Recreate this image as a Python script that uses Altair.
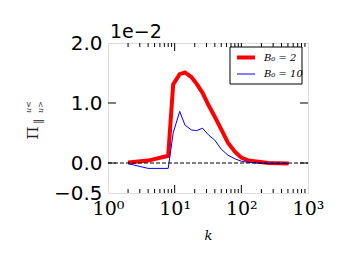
import altair as alt
import pandas as pd

# ---- data (values in units of 1e-2) ----
k = [2, 4, 8, 9.5, 11.9, 14.3, 17.9, 21.4, 26.2, 32, 40, 50, 63, 80, 100, 128, 256, 512]
b0_2 = [0.01, 0.04, 0.12, 1.31, 1.48, 1.51, 1.43, 1.32, 1.17, 0.97, 0.77, 0.56, 0.34, 0.19, 0.09, 0.04, 0.0, -0.01]
b0_10 = [-0.01, -0.09, -0.09, 0.50, 0.86, 0.63, 0.55, 0.54, 0.58, 0.47, 0.38, 0.23, 0.13, 0.07, 0.03, 0.01, -0.01, -0.01]
series_names = ["B₀ = 2", "B₀ = 10"]

x_tick_values = [1, 10, 100, 1000]
x_major = [10, 100]
x_minor = [2, 3, 4, 5, 6, 7, 8, 9, 20, 30, 40, 50, 60, 70, 80, 90,
           200, 300, 400, 500, 600, 700, 800, 900]
y_tick_values = [-0.5, 0.0, 1.0, 2.0]
y_major = [0.0, 1.0]

W, H = 200, 150

df = pd.DataFrame({
    "k": k * 2,
    "v": b0_2 + b0_10,
    "s": [series_names[0]] * len(k) + [series_names[1]] * len(k),
})

xs = alt.Scale(type="log", domain=[1, 1000], nice=False)
ys = alt.Scale(domain=[-0.5, 2.0], nice=False, zero=False)

lines = alt.Chart(df).mark_line(clip=True).encode(
    x=alt.X("k:Q", scale=xs, axis=alt.Axis(
        values=x_tick_values, ticks=False, domain=False, grid=False,
        labelExpr="'10' + ['⁰','¹','²','³'][round(log(datum.value)/LN10)]",
        labelFont="DejaVu Serif", labelFontSize=19, labelPadding=6, labelColor="black",
        labelFlush=False,
        title="k", titleFont="DejaVu Serif", titleFontStyle="italic", titleFontWeight="normal",
        titleFontSize=13, titlePadding=11, titleColor="black")),
    y=alt.Y("v:Q", scale=ys, axis=alt.Axis(
        values=y_tick_values, format=".1f", ticks=False, domain=False, grid=False,
        labelFont="DejaVu Sans", labelFontSize=20, labelPadding=6, labelColor="black",
        labelFlush=False, title=None)),
    color=alt.Color("s:N", scale=alt.Scale(domain=series_names, range=["#ff0000", "#0000ff"]), legend=None),
    strokeWidth=alt.StrokeWidth("s:N", scale=alt.Scale(domain=series_names, range=[4, 1]), legend=None),
    detail="s:N",
)

zero_line = alt.Chart(pd.DataFrame({"z": [0.0]})).mark_rule(
    color="black", strokeWidth=1, strokeDash=[4, 2]).encode(
    y=alt.Y("z:Q", scale=ys, axis=None), x=alt.value(0), x2=alt.value(W))

def xticks(vals, length, top):
    d = pd.DataFrame({"t": vals})
    if top:
        yy, yy2 = alt.value(0), alt.value(length)
    else:
        yy, yy2 = alt.value(H), alt.value(H - length)
    return alt.Chart(d).mark_rule(color="black", strokeWidth=1).encode(
        x=alt.X("t:Q", scale=xs, axis=None), y=yy, y2=yy2)

def yticks(vals, length, right):
    d = pd.DataFrame({"t": vals})
    if right:
        xx, xx2 = alt.value(W), alt.value(W - length)
    else:
        xx, xx2 = alt.value(0), alt.value(length)
    return alt.Chart(d).mark_rule(color="black", strokeWidth=1).encode(
        y=alt.Y("t:Q", scale=ys, axis=None), x=xx, x2=xx2)

tick_layers = [
    xticks(x_major, 8, False), xticks(x_major, 8, True),
    xticks(x_minor, 4, False), xticks(x_minor, 4, True),
    yticks(y_major, 8, False), yticks(y_major, 8, True),
]

one = pd.DataFrame({"a": [0]})

# legend
leg_box = alt.Chart(one).mark_rect(fill="white", stroke="black", strokeWidth=1).encode(
    x=alt.value(122), x2=alt.value(194), y=alt.value(4), y2=alt.value(41))
leg_red = alt.Chart(one).mark_rule(color="#ff0000", strokeWidth=4).encode(
    x=alt.value(129), x2=alt.value(147), y=alt.value(14.5))
leg_blue = alt.Chart(one).mark_rule(color="#0000ff", strokeWidth=1).encode(
    x=alt.value(129), x2=alt.value(147), y=alt.value(31))
leg_t1 = alt.Chart(one).mark_text(text=series_names[0], font="DejaVu Serif", fontStyle="italic",
                                  fontSize=10, align="left", baseline="middle", color="black").encode(
    x=alt.value(156), y=alt.value(14.5))
leg_t2 = alt.Chart(one).mark_text(text=series_names[1], font="DejaVu Serif", fontStyle="italic",
                                  fontSize=10, align="left", baseline="middle", color="black").encode(
    x=alt.value(156), y=alt.value(31))

# offset text
offset_txt = alt.Chart(one).mark_text(text="1e−2", font="DejaVu Sans", fontSize=19,
                                      align="left", baseline="alphabetic", color="black").encode(
    x=alt.value(2), y=alt.value(-5))

# y label: Π_∥ with u< / u>
ylab_pi = alt.Chart(one).mark_text(text="Π", font="DejaVu Serif", fontSize=15, angle=270,
                                   align="center", baseline="middle", color="#222").encode(
    x=alt.value(-75), y=alt.value(90))
ylab_par = alt.Chart(one).mark_text(text="∥", font="DejaVu Sans", fontSize=11, angle=270,
                                    align="center", baseline="middle", color="#222").encode(
    x=alt.value(-69), y=alt.value(78))
ylab_sup = alt.Chart(one).mark_text(text="u<", font="DejaVu Serif", fontStyle="italic", fontSize=8, angle=270,
                                    align="center", baseline="middle", color="#222").encode(
    x=alt.value(-79), y=alt.value(64))
ylab_sub = alt.Chart(one).mark_text(text="u>", font="DejaVu Serif", fontStyle="italic", fontSize=8, angle=270,
                                    align="center", baseline="middle", color="#222").encode(
    x=alt.value(-67), y=alt.value(64))

chart = alt.layer(
    lines, zero_line, *tick_layers,
    leg_box, leg_red, leg_blue, leg_t1, leg_t2,
    offset_txt, ylab_pi, ylab_par, ylab_sup, ylab_sub,
).resolve_axis(x="independent", y="independent").properties(
    width=W, height=H,
    autosize=alt.AutoSizeParams(type="none"),
    padding={"left": 100, "top": 35, "right": 30, "bottom": 70},
).configure_view(
    stroke="black", strokeWidth=1.2
).configure(background="white")

chart.save("out.html", embed_options={"renderer": "svg", "actions": False})
